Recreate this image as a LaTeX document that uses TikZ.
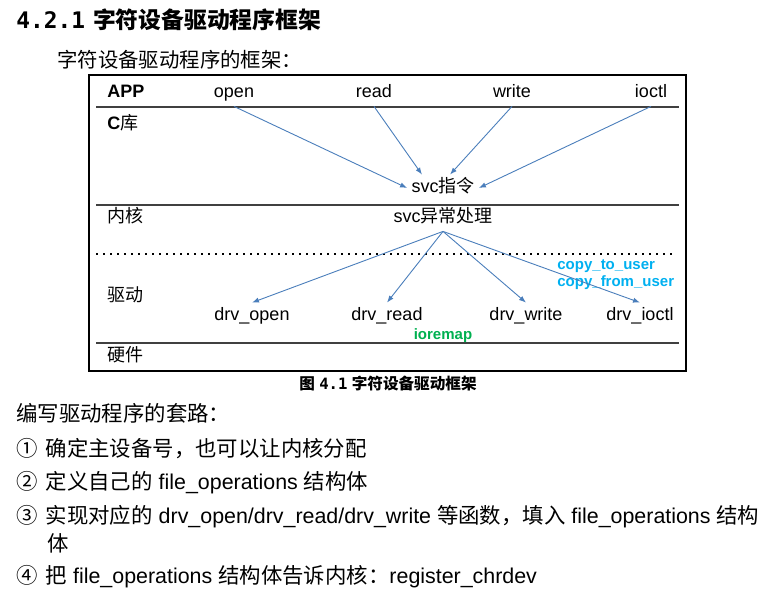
\documentclass[tikz,border=0pt]{standalone}
\usepackage{fontspec}
\setmainfont{Liberation Sans}
\newfontfamily\cjk{Noto Sans CJK SC}
\newfontfamily\mono{DejaVu Sans Mono}
\usetikzlibrary{arrows.meta}
\definecolor{linkblue}{RGB}{74,126,187}
\definecolor{copyblue}{RGB}{0,176,240}
\definecolor{mapgreen}{RGB}{0,176,80}

\begin{document}
\begin{tikzpicture}[
  x=0.5pt, y=-0.5pt,
  lbl/.style   = {inner sep=2pt, text height=7pt, text depth=2pt, font=\fontsize{9pt}{11pt}\selectfont},
  layer/.style = {lbl, anchor=west},
  note/.style  = {anchor=west, inner sep=0pt, font=\fontsize{7.5pt}{9pt}\selectfont\bfseries},
  txt/.style   = {anchor=west, inner sep=0pt, font=\fontsize{10.7pt}{13pt}\selectfont},
  sep/.style   = {line width=0.8pt, black!75},
  link/.style  = {draw=linkblue, line width=0.45pt, -{Latex[length=3.5pt,width=2.6pt]}}
]
  \useasboundingbox (0,0) rectangle (767,599);

  % Heading
  \node[anchor=west, inner sep=0pt, font=\fontsize{11.4pt}{14pt}\selectfont\bfseries] (head) at (16,20)
    {{\mono 4.2.1}\hspace{4pt}{\cjk 字符设备驱动程序框架}};
  \node[anchor=west, inner sep=0pt, font=\fontsize{10.2pt}{12pt}\selectfont] (sub) at (57,60)
    {\cjk 字符设备驱动程序的框架：};

  % Frame and layers
  \draw[line width=0.7pt] (89,75) rectangle (686,371);
  \draw[sep] (96,107) -- (679,107);
  \draw[sep] (96,205) -- (679,205);
  \draw[line width=0.8pt, dash pattern=on 0.8pt off 2.7pt] (96,254) -- (676,254);
  \draw[sep] (96,343) -- (679,343);

  % APP row
  \node[layer, font=\fontsize{9pt}{11pt}\selectfont\bfseries] (app) at (103,93) {APP};
  \node[lbl] (open)  at (234,93) {open};
  \node[lbl] (read)  at (374,93) {read};
  \node[lbl] (write) at (512,93) {write};
  \node[lbl] (ioctl) at (651,93) {ioctl};

  % C library
  \node[layer] (clib) at (103,125) {{\bfseries C}{\cjk 库}};
  \node[lbl] (svcins) at (443,188) {svc{\cjk 指令}};

  % Kernel
  \node[layer] (kernel) at (103,218) {\cjk 内核};
  \node[lbl] (svcexc) at (443,218) {svc{\cjk 异常处理}};

  % Driver
  \node[layer] (driver) at (103,296) {\cjk 驱动};
  \node[lbl] (drvopen)  at (252,316) {drv\_open};
  \node[lbl] (drvread)  at (387,316) {drv\_read};
  \node[lbl] (drvwrite) at (526,316) {drv\_write};
  \node[lbl] (drvioctl) at (640,316) {drv\_ioctl};
  \node[note, text=copyblue] (copyto)   at (557,266) {copy\_to\_user};
  \node[note, text=copyblue] (copyfrom) at (557,283) {copy\_from\_user};
  \node[note, anchor=center, text=mapgreen] (ioremap) at (443,336) {ioremap};

  % Hardware
  \node[layer] (hw) at (103,356) {\cjk 硬件};

  % Calls into svc
  \draw[link] (open.south)  -- (svcins.west);
  \draw[link] (read.south)  -- ([xshift=-10.5pt]svcins.north);
  \draw[link] (write.south) -- ([xshift=3.5pt]svcins.north);
  \draw[link] (ioctl.south) -- (svcins.east);

  % Dispatch to driver
  \draw[link] (svcexc.south) -- (drvopen.north);
  \draw[link] (svcexc.south) -- (drvread.north);
  \draw[link] (svcexc.south) -- (drvwrite.north);
  \draw[link] (svcexc.south) -- (drvioctl.north);

  % Caption
  \node[inner sep=0pt, font=\fontsize{7.8pt}{9pt}\selectfont\bfseries] (cap) at (388,384)
    {{\cjk 图} {\mono 4.1} {\cjk 字符设备驱动框架}};

  % Steps
  \node[txt] (intro) at (16,413) {\cjk 编写驱动程序的套路：};
  \node[txt] (s1) at (16,449) {{\cjk ①\hspace{4pt}确定主设备号，也可以让内核分配}};
  \node[txt] (s2) at (16,483) {{\cjk ②\hspace{4pt}定义自己的} file\_operations {\cjk 结构体}};
  \node[txt] (s3) at (16,517) {{\cjk ③\hspace{4pt}实现对应的} drv\_open/drv\_read/drv\_write {\cjk 等函数，填入} file\_operations {\cjk 结构}};
  \node[txt] (s3b) at (47,543) {\cjk 体};
  \node[txt] (s4) at (16,577) {{\cjk ④\hspace{4pt}把} file\_operations {\cjk 结构体告诉内核：}register\_chrdev};
\end{tikzpicture}
\end{document}
